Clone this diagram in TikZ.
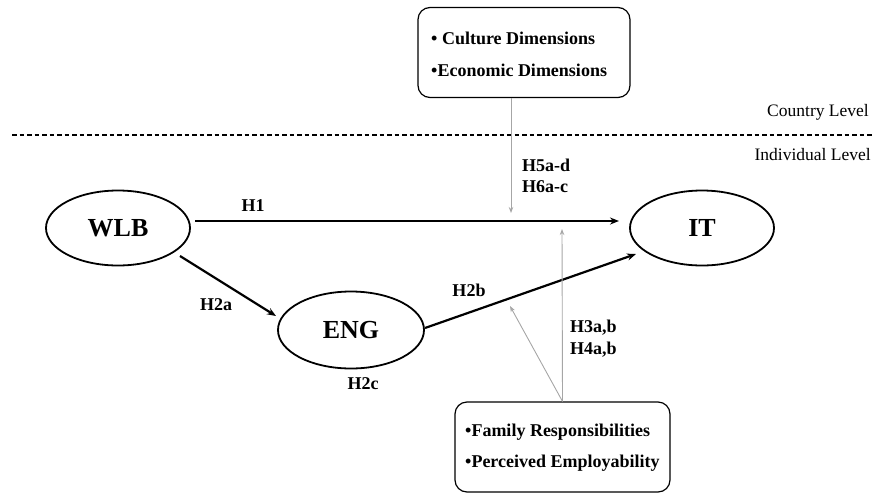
\documentclass[tikz,border=0pt]{standalone}
\usepackage{fontspec}
\setmainfont{Liberation Serif}
\usetikzlibrary{arrows.meta,shapes.geometric}
\begin{document}
\begin{tikzpicture}[x=1pt,y=-1pt,
  construct/.style={draw, line width=1.8pt, ellipse, minimum width=144pt, minimum height=75pt, inner sep=0pt, font=\fontsize{26}{30}\selectfont\bfseries},
  factorbox/.style={draw, line width=1.2pt, rounded corners=12pt, inner sep=0pt},
  bullet/.style={anchor=west, inner sep=0pt, font=\fontsize{18}{21}\selectfont\bfseries},
  hyp/.style={inner sep=0pt, font=\fontsize{18}{21}\selectfont\bfseries},
  hypl/.style={hyp, anchor=west},
  levellabel/.style={anchor=east, inner sep=0pt, font=\fontsize{17.5}{20}\selectfont},
  mainpath/.style={line width=2.2pt, -{Stealth[length=9pt,width=7pt]}},
  moderator/.style={draw=gray!70, line width=0.9pt, -{Stealth[length=6pt,width=4.5pt]}}]
\useasboundingbox (0,0) rectangle (873,493);

% level separator
\coordinate (sepL) at (12,135);
\coordinate (sepR) at (873,135);
\draw[line width=1.3pt, dash pattern=on 4.5pt off 3pt] (sepL) -- (sepR);
\node[levellabel] (country) at (869,112) {Country Level};
\node[levellabel] (individual) at (871,155) {Individual Level};

% constructs
\node[construct] (wlb) at (118,228) {WLB};
\node[construct] (it) at (702,228) {IT};
\node[construct, minimum width=146pt, minimum height=77pt] (eng) at (351,330) {ENG};

% country-level moderators
\node[factorbox, minimum width=212pt, minimum height=90pt] (country box) at (524,52.5) {};
\node[bullet] (culture) at (431,38) {• Culture Dimensions};
\node[bullet] (economic) at (431,70) {•Economic Dimensions};

% individual-level moderators
\node[factorbox, minimum width=215pt, minimum height=90pt] (indiv box) at (562.5,447) {};
\node[bullet] (family) at (465,432) {•Family Responsibilities};
\node[bullet] (employ) at (465,463) {•Perceived Employability};

% main paths
\coordinate (h1s) at (195,221);
\coordinate (h1e) at (619,221);
\draw[mainpath] (h1s) -- (h1e);
\coordinate (h2as) at (180,256);
\coordinate (h2ae) at (276,316);
\draw[mainpath] (h2as) -- (h2ae);
\coordinate (h2bs) at (425,328);
\coordinate (h2be) at (636,254);
\draw[mainpath] (h2bs) -- (h2be);

% moderating effects
\coordinate (m1) at (511,213);
\coordinate (m2) at (562,229);
\coordinate (m3) at (510,306);
\draw[moderator] (country box.south -| m1) -- (m1);
\draw[moderator] (indiv box.north) -- (m2);
\draw[moderator] (indiv box.north) -- (m3);

% hypothesis labels
\node[hyp] (H1) at (253,206) {H1};
\node[hyp] (H2a) at (216,305) {H2a};
\node[hyp] (H2b) at (469,290) {H2b};
\node[hyp] (H2c) at (363,384) {H2c};
\node[hypl] (H3) at (570,328) {H3a,b};
\node[hypl] (H4) at (570,350) {H4a,b};
\node[hypl] (H5) at (522,165) {H5a-d};
\node[hypl] (H6) at (522,187) {H6a-c};
\end{tikzpicture}
\end{document}
